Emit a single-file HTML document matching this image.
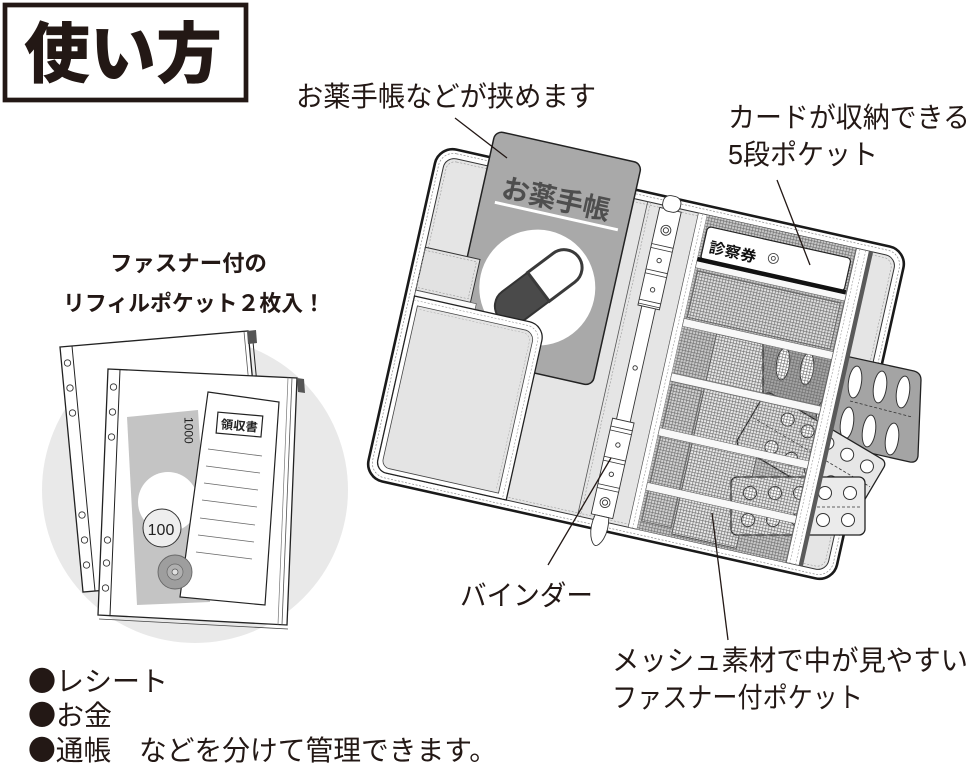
<!DOCTYPE html>
<html><head><meta charset="utf-8"><style>
html,body{margin:0;padding:0;background:#fff;}
svg{display:block;}
text{font-family:"Liberation Sans","Noto Sans CJK JP",sans-serif;}
.cjk{font-family:"Noto Sans CJK JP",sans-serif;}
</style></head><body>
<svg width="973" height="765" viewBox="0 0 973 765" xmlns="http://www.w3.org/2000/svg">
<defs>
<pattern id="mesh" width="3" height="3" patternUnits="userSpaceOnUse"><path d="M0 0.3H3M0.3 0V3" stroke="#6a6a6a" stroke-width="0.6" fill="none"/></pattern>
</defs>
<rect width="973" height="765" fill="#fff"/>

<!-- Title -->
<rect x="5" y="5" width="241" height="95" fill="#fff" stroke="#231815" stroke-width="4.7"/>
<text x="24" y="77" font-size="66" font-weight="900" fill="#231815" textLength="198" lengthAdjust="spacingAndGlyphs">使い方</text>

<!-- Labels -->
<text x="296" y="106" font-size="28" fill="#231815" textLength="300" lengthAdjust="spacingAndGlyphs">お薬手帳などが挟めます</text>
<text x="728" y="127" font-size="28" fill="#231815" textLength="242" lengthAdjust="spacingAndGlyphs">カードが収納できる</text>
<text x="728" y="164" font-size="28" fill="#231815" textLength="150" lengthAdjust="spacingAndGlyphs">5段ポケット</text>
<text x="110" y="271" font-size="22" font-weight="bold" fill="#231815" textLength="157" lengthAdjust="spacingAndGlyphs">ファスナー付の</text>
<text x="63" y="311" font-size="22" font-weight="bold" fill="#231815" textLength="262" lengthAdjust="spacingAndGlyphs">リフィルポケット２枚入！</text>
<text x="460" y="605" font-size="28" fill="#231815" textLength="133" lengthAdjust="spacingAndGlyphs">バインダー</text>
<text x="612" y="670" font-size="28" fill="#231815" textLength="356" lengthAdjust="spacingAndGlyphs">メッシュ素材で中が見やすい</text>
<text x="612" y="707" font-size="28" fill="#231815" textLength="251" lengthAdjust="spacingAndGlyphs">ファスナー付ポケット</text>
<text class="cjk" x="28" y="691" font-size="28" fill="#231815" textLength="140" lengthAdjust="spacingAndGlyphs">●レシート</text>
<text class="cjk" x="28" y="725" font-size="28" fill="#231815" textLength="84" lengthAdjust="spacingAndGlyphs">●お金</text>
<text class="cjk" x="28" y="760" font-size="28" fill="#231815" textLength="469" lengthAdjust="spacingAndGlyphs">●通帳　などを分けて管理できます。</text>

<!-- Refill illustration -->
<circle cx="195" cy="490" r="153" fill="#e9e9e9"/>
<polygon points="60,347 248,331 271,576 83,592" fill="#fff" stroke="#222" stroke-width="1.3"/>
<line x1="72" y1="346" x2="95" y2="591" stroke="#222" stroke-width="1"/>
<line x1="244" y1="331.5" x2="267" y2="576.5" stroke="#555" stroke-width="0.8"/>
<line x1="252" y1="331" x2="275" y2="576" stroke="#222" stroke-width="1"/>
<polygon points="247,331 256,330 257,343 248,344" fill="#555"/>
<g fill="#fff" stroke="#333" stroke-width="0.9">
<circle cx="67.5" cy="363" r="3.2"/><circle cx="70" cy="388" r="3.2"/><circle cx="72.5" cy="413" r="3.2"/>
<circle cx="82" cy="515" r="3.2"/><circle cx="84.5" cy="540" r="3.2"/><circle cx="86.5" cy="565" r="3.2"/>
</g>

<polygon points="108,369 297,378 287,625 98,615" fill="#fff" stroke="#222" stroke-width="1.3"/>
<line x1="120" y1="369.6" x2="110" y2="615.6" stroke="#222" stroke-width="1"/>
<line x1="292" y1="377.8" x2="282" y2="624.8" stroke="#555" stroke-width="0.8"/>
<line x1="288" y1="377.6" x2="278" y2="624.6" stroke="#777" stroke-width="0.7"/>
<line x1="99" y1="619" x2="288" y2="629" stroke="#444" stroke-width="0.8"/>
<polygon points="297,378 304,379 305,393 298,392" fill="#555"/>
<g fill="#fff" stroke="#333" stroke-width="0.9">
<circle cx="113.5" cy="387" r="3.2"/><circle cx="112.5" cy="412" r="3.2"/><circle cx="111.5" cy="437" r="3.2"/>
<circle cx="107.5" cy="540" r="3.2"/><circle cx="106.5" cy="563" r="3.2"/><circle cx="105.5" cy="588" r="3.2"/>
</g>

<!-- banknote -->
<polygon points="127,417 198,410 210,602 137,605" fill="#c4c4c4"/>
<text transform="translate(184.5,417) rotate(90)" font-size="12" fill="#222">1000</text>
<circle cx="168" cy="502" r="30" fill="#fff"/>
<!-- receipt -->
<polygon points="208,392 279,402 265,605 180,597" fill="#fff" stroke="#222" stroke-width="1.2"/>
<g transform="rotate(5 239 424)">
<rect x="217" y="414" width="45" height="21" fill="#fff" stroke="#222" stroke-width="1.2"/>
<text x="221" y="430" font-size="12" font-weight="bold" fill="#222" textLength="37" lengthAdjust="spacingAndGlyphs">領収書</text>
</g>
<g stroke="#666" stroke-width="0.8">
<line x1="208" y1="449" x2="262" y2="456"/>
<line x1="206" y1="466" x2="260" y2="473"/>
<line x1="204" y1="483" x2="258" y2="490"/>
<line x1="202" y1="500" x2="257" y2="507"/>
<line x1="200" y1="518" x2="255" y2="525"/>
<line x1="198" y1="535" x2="254" y2="542"/>
<line x1="196" y1="552" x2="252" y2="559"/>
</g>
<!-- coins -->
<circle cx="162" cy="528" r="19" fill="#eee" stroke="#333" stroke-width="1"/>
<text x="161" y="535" font-size="16" fill="#222" text-anchor="middle">100</text>
<circle cx="175" cy="572" r="17" fill="#9e9e9e" stroke="#666" stroke-width="0.9"/>
<circle cx="175" cy="572" r="8" fill="#b0b0b0" stroke="#666" stroke-width="0.7"/>
<circle cx="175" cy="572" r="3" fill="#e0e0e0" stroke="#555" stroke-width="0.7"/>

<!-- Binder base -->
<g transform="translate(636,364) rotate(12.6)">
<rect x="-240" y="-170" width="480" height="340" rx="18" fill="#fff" stroke="#1a1a1a" stroke-width="2.6"/>
<rect x="-236" y="-166" width="472" height="332" rx="15" fill="none" stroke="#8a8a8a" stroke-width="0.7" stroke-dasharray="2 1.6"/>
<rect x="-231" y="-161" width="462" height="322" rx="11" fill="#e5e5e5" stroke="#333" stroke-width="1"/>
<rect x="-228" y="-158" width="456" height="316" rx="9" fill="none" stroke="#9a9a9a" stroke-width="0.6" stroke-dasharray="2 1.6"/>
<line x1="-24" y1="-161" x2="-24" y2="161" stroke="#555" stroke-width="0.8"/>
<line x1="-21" y1="-161" x2="-21" y2="161" stroke="#999" stroke-width="0.6" stroke-dasharray="2 1.6"/>

<!-- medicine notebook card -->
<rect x="-188" y="-197" width="150" height="228" rx="8" fill="#a9a9a9" stroke="#222" stroke-width="1.5"/>
<text x="-169" y="-134" font-size="27" font-weight="bold" fill="#4e4e4e" textLength="110" lengthAdjust="spacingAndGlyphs">お薬手帳</text>
<line x1="-173" y1="-127" x2="-47" y2="-127" stroke="#fff" stroke-width="3"/>
<circle cx="-113" cy="-53" r="58" fill="#fff"/>
<g transform="translate(-112,-54) rotate(-49.5)">
<path d="M0,-18 H-32 A18,18 0 0 0 -32,18 H0 Z" fill="#4a4a4a" stroke="#333" stroke-width="2"/>
<path d="M0,-18 H32 A18,18 0 0 1 32,18 H0 Z" fill="#fff" stroke="#3a3a3a" stroke-width="3"/>
</g>

<!-- band -->
<rect x="-231" y="-68" width="56" height="44" fill="#e2e2e2" stroke="#333" stroke-width="1"/>
<rect x="-231" y="-65" width="53" height="38" fill="none" stroke="#999" stroke-width="0.6" stroke-dasharray="2 1.6"/>
<rect x="-231" y="-24" width="62" height="6" fill="#fafafa" stroke="#555" stroke-width="0.7"/>

<!-- pocket -->
<path d="M-231,-18 H-113 A16,16 0 0 1 -97,-2 V161 H-220 A11,11 0 0 1 -231,150 Z" fill="#fff" stroke="#222" stroke-width="1.3"/>
<path d="M-231,-14 H-114 A13,13 0 0 1 -101,-1 V161" fill="none" stroke="#999" stroke-width="0.6" stroke-dasharray="2 1.6"/>
<path d="M-226,-9 H-117 A10,10 0 0 1 -106,2 V156 H-218 A8,8 0 0 1 -226,148 Z" fill="#e4e4e4" stroke="#444" stroke-width="0.8"/>
<path d="M-223,-6 H-118 A8,8 0 0 1 -109,3 V153" fill="none" stroke="#aaa" stroke-width="0.5" stroke-dasharray="2 1.6"/>

<!-- spine rings -->
<rect x="-7" y="-60" width="14" height="122" fill="#fff" stroke="#333" stroke-width="0.9"/>
<rect x="-11" y="-158" width="22" height="100" fill="#fff" stroke="#333" stroke-width="0.9"/>
<rect x="-11" y="58" width="22" height="98" fill="#fff" stroke="#333" stroke-width="0.9"/>
<rect x="-9" y="-172" width="18" height="16" rx="7" fill="#fff" stroke="#333" stroke-width="0.9"/>
<path d="M-7,156 C-11,174 -4,186 0,186 C4,186 11,174 7,156 Z" fill="#fff" stroke="#333" stroke-width="0.9"/>
<g stroke="#333" stroke-width="0.8">
<line x1="-11" y1="-121" x2="11" y2="-121"/><line x1="-11" y1="-117" x2="11" y2="-117"/>
<line x1="-11" y1="-95" x2="11" y2="-95"/><line x1="-11" y1="-91" x2="11" y2="-91"/>
<line x1="-11" y1="-64" x2="11" y2="-64"/><line x1="-11" y1="-60" x2="11" y2="-60"/>
<line x1="-11" y1="66" x2="11" y2="66"/><line x1="-11" y1="70" x2="11" y2="70"/>
<line x1="-11" y1="97" x2="11" y2="97"/><line x1="-11" y1="101" x2="11" y2="101"/>
<line x1="-11" y1="125" x2="11" y2="125"/><line x1="-11" y1="129" x2="11" y2="129"/>
</g>
<g fill="#fff" stroke="#333" stroke-width="0.9">
<circle cx="0" cy="-137" r="5"/><circle cx="0" cy="-137" r="2.6"/>
<circle cx="0" cy="-106" r="2.2"/><circle cx="0" cy="-76" r="2.2"/>
<circle cx="0" cy="4" r="2.2"/>
<circle cx="0" cy="83" r="2.2"/><circle cx="0" cy="113" r="2.2"/>
<circle cx="0" cy="142" r="5"/><circle cx="0" cy="142" r="2.6"/>
</g>

<!-- right panel base -->
<rect x="28" y="-161" width="9" height="322" fill="#fff" stroke="#555" stroke-width="0.7"/>
<line x1="32.5" y1="-161" x2="32.5" y2="161" stroke="#999" stroke-width="0.6" stroke-dasharray="2 1.6"/>
<rect x="37" y="-161" width="153" height="322" fill="#c8c8c8"/>
<rect x="40" y="-104" width="146" height="47" fill="#dedede" stroke="#444" stroke-width="0.7"/>
<rect x="72" y="-47" width="66" height="205" fill="#e8e8e8" stroke="#333" stroke-width="0.8"/>
<rect x="40" y="12" width="30" height="140" fill="#d2d2d2" stroke="#444" stroke-width="0.6"/>
</g>

<!-- Pill sheets (image coords) -->
<path d="M763,338 L914,371 Q921,373 921,380 L918,456 Q917,463 910,462 L763,429 Z" fill="#a4a4a4" stroke="#222" stroke-width="1.3"/>
<g fill="#fff" stroke="#333" stroke-width="1">
<ellipse cx="783" cy="364" rx="6.5" ry="16" transform="rotate(8 783 364)"/>
<ellipse cx="807" cy="369" rx="6.5" ry="16" transform="rotate(8 807 369)"/>
<ellipse cx="855" cy="382" rx="6.5" ry="16" transform="rotate(8 855 382)"/>
<ellipse cx="880" cy="387" rx="6.5" ry="16" transform="rotate(8 880 387)"/>
<ellipse cx="903" cy="392" rx="6.5" ry="16" transform="rotate(8 903 392)"/>
<ellipse cx="823" cy="416" rx="6.5" ry="16" transform="rotate(8 823 416)"/>
<ellipse cx="847" cy="423" rx="6.5" ry="16" transform="rotate(8 847 423)"/>
<ellipse cx="869" cy="431" rx="6.5" ry="16" transform="rotate(8 869 431)"/>
<ellipse cx="892" cy="439" rx="6.5" ry="16" transform="rotate(8 892 439)"/>
</g>
<line x1="850" y1="401" x2="912" y2="417" stroke="#333" stroke-width="0.8" stroke-dasharray="3 2"/>

<g transform="translate(887,462) rotate(30.6)">
<rect x="-140" y="0" width="140" height="62" rx="6" fill="#e6e6e6" stroke="#222" stroke-width="1.3"/>
<g fill="#fff" stroke="#333" stroke-width="1">
<circle cx="-15" cy="14" r="6.5"/><circle cx="-38" cy="14" r="6.5"/><circle cx="-61" cy="14" r="6.5"/><circle cx="-84" cy="14" r="6.5"/><circle cx="-107" cy="14" r="6.5"/>
<circle cx="-15" cy="46" r="6.5"/><circle cx="-38" cy="46" r="6.5"/><circle cx="-61" cy="46" r="6.5"/><circle cx="-84" cy="46" r="6.5"/><circle cx="-107" cy="46" r="6.5"/>
</g>
<line x1="-138" y1="30" x2="-2" y2="30" stroke="#333" stroke-width="0.8" stroke-dasharray="3 2"/>
</g>

<rect x="731" y="477" width="134" height="58" rx="6" fill="#ebebeb" stroke="#222" stroke-width="1.3"/>
<g fill="#fff" stroke="#333" stroke-width="1">
<circle cx="750" cy="493" r="6.5"/><circle cx="775" cy="493" r="6.5"/><circle cx="800" cy="493" r="6.5"/><circle cx="825" cy="493" r="6.5"/><circle cx="850" cy="493" r="6.5"/>
<circle cx="748" cy="520" r="6.5"/><circle cx="773" cy="520" r="6.5"/><circle cx="798" cy="520" r="6.5"/><circle cx="823" cy="520" r="6.5"/><circle cx="848" cy="520" r="6.5"/>
</g>
<line x1="812" y1="507" x2="862" y2="507" stroke="#333" stroke-width="0.8" stroke-dasharray="3 2"/>

<!-- Binder overlay: mesh, bars, card, zipper -->
<g transform="translate(636,364) rotate(12.6)">
<rect x="37" y="-161" width="153" height="322" fill="url(#mesh)"/>
<g fill="#f8f8f8" stroke="#666" stroke-width="0.6">
<rect x="37" y="-55" width="153" height="8"/>
<rect x="37" y="1" width="153" height="8"/>
<rect x="37" y="57" width="153" height="8"/>
<rect x="37" y="113" width="153" height="8"/>
<rect x="37" y="-114" width="153" height="7"/>
</g>
<rect x="40" y="-150" width="147" height="34" rx="4" fill="#fff" stroke="#222" stroke-width="1.2"/>
<rect x="37" y="-118" width="152" height="4.5" fill="#111"/>
<text x="46" y="-125" font-size="15" font-weight="bold" fill="#111" textLength="48" lengthAdjust="spacingAndGlyphs">診察券</text>
<circle cx="111" cy="-133" r="5" fill="#fff" stroke="#444" stroke-width="0.9"/>
<circle cx="111" cy="-133" r="2" fill="none" stroke="#444" stroke-width="0.9"/>

<rect x="190" y="-161" width="13" height="322" fill="#fff" stroke="#555" stroke-width="0.7"/>
<line x1="193.5" y1="-161" x2="193.5" y2="161" stroke="#999" stroke-width="0.6" stroke-dasharray="2 1.6"/>
<line x1="199.5" y1="-161" x2="199.5" y2="161" stroke="#999" stroke-width="0.6" stroke-dasharray="2 1.6"/>
<rect x="203" y="-161" width="4" height="322" fill="#5a5a5a"/>
</g>

<!-- leader lines -->
<g stroke="#231815" stroke-width="1.3">
<line x1="455" y1="118" x2="507" y2="158"/>
<line x1="777" y1="180" x2="810" y2="265"/>
<line x1="548" y1="565" x2="611" y2="458"/>
<line x1="712" y1="513" x2="728" y2="640"/>
</g>
</svg>
</body></html>
